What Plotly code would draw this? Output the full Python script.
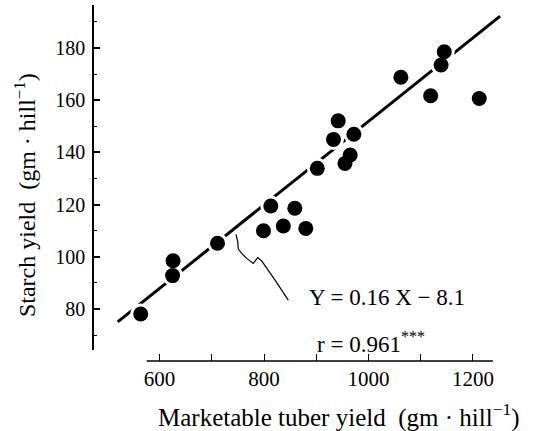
import plotly.graph_objects as go

# Marketable tuber yield vs. starch yield per hill
tuber_yield = [564, 626, 625, 711, 813, 859, 799, 837, 880, 902,
               955, 965, 933, 972, 942, 1062, 1119, 1139, 1145, 1212]
starch_yield = [78.1, 98.5, 92.8, 105.2, 119.5, 118.6, 110.0, 111.8, 110.9, 133.9,
                135.8, 139.0, 145.0, 147.0, 152.1, 168.8, 161.7, 173.5, 178.6, 160.7]

# Regression Y = 0.16 X - 8.1, r = 0.961
slope = 0.16
intercept = -8.1
fit_x = [520, 1252]
fit_y = [slope * x + intercept for x in fit_x]

# Callout from the fitted line to the equation label
leader_x = [746.4, 749.7, 750.8, 757.3, 766.9, 779.5, 787.9, 795.6, 821.1, 846.5]
leader_y = [108.6, 105.8, 103.0, 101.3, 99.4, 97.5, 99.7, 98.4, 91.1, 83.4]

x_ticks = [600, 800, 1000, 1200]
x_minor_ticks = [700, 900, 1100]
y_ticks = [80, 100, 120, 140, 160, 180]

X_RANGE = [472.7, 1261.3]
Y_RANGE = [64.3, 196.5]
X_LINE_SPAN = [575.5, 1238]

SERIF = "Liberation Serif, Times New Roman, DejaVu Serif, serif"

fig = go.Figure()

fig.add_trace(go.Scatter(
    x=fit_x, y=fit_y, mode="lines",
    line=dict(color="black", width=3),
    hoverinfo="skip", showlegend=False,
))
# white halos break the fitted line around each dot
fig.add_trace(go.Scatter(
    x=tuber_yield, y=starch_yield, mode="markers",
    marker=dict(color="white", size=21),
    hoverinfo="skip", showlegend=False,
))
fig.add_trace(go.Scatter(
    x=tuber_yield, y=starch_yield, mode="markers",
    marker=dict(color="black", size=15),
    showlegend=False,
))
fig.add_trace(go.Scatter(
    x=leader_x, y=leader_y, mode="lines",
    line=dict(color="black", width=1.2),
    hoverinfo="skip", showlegend=False,
))

# detached x-axis baseline
fig.add_shape(type="line", xref="x", yref="paper",
              x0=X_LINE_SPAN[0], x1=X_LINE_SPAN[1], y0=0, y1=0,
              line=dict(color="black", width=1.5))

fig.add_annotation(
    text="Y = 0.16 X − 8.1", xref="x", yref="y",
    x=1035, y=84.6, showarrow=False, xanchor="center", yanchor="middle",
    font=dict(family=SERIF, size=23, color="black"),
)
fig.add_annotation(
    text="r = 0.961<sup>***</sup>", xref="x", yref="y",
    x=1005, y=67.0, showarrow=False, xanchor="center", yanchor="middle",
    font=dict(family=SERIF, size=23, color="black"),
)
fig.add_annotation(
    text="Marketable tuber yield  (gm · hill<sup>−1</sup>)",
    xref="paper", yref="paper", x=0.597, y=0, yshift=-54,
    showarrow=False, xanchor="center", yanchor="middle",
    font=dict(family=SERIF, size=25, color="black"),
)
fig.add_annotation(
    text="Starch yield  (gm · hill<sup>−1</sup>)",
    xref="paper", yref="paper", x=0, xshift=-68, y=0.466,
    textangle=-90, showarrow=False, xanchor="center", yanchor="middle",
    font=dict(family=SERIF, size=24, color="black"),
)

fig.update_layout(
    width=541, height=431,
    margin=dict(l=93, r=36, t=5, b=70),
    paper_bgcolor="white", plot_bgcolor="white",
    font=dict(family=SERIF, color="black"),
    xaxis=dict(
        range=X_RANGE, anchor="free", position=0,
        showline=False, showgrid=False, zeroline=False,
        tickmode="array", tickvals=x_ticks,
        ticks="inside", ticklen=7, tickwidth=1.3, tickcolor="black",
        ticklabelstandoff=3,
        tickfont=dict(family=SERIF, size=21, color="black"),
        minor=dict(tickmode="array", tickvals=x_minor_ticks,
                   ticks="inside", ticklen=7, tickwidth=1.3, tickcolor="black",
                   showgrid=False),
    ),
    yaxis=dict(
        range=Y_RANGE, domain=[0.0309, 1], anchor="free", position=0,
        showline=True, linecolor="black", linewidth=1.5,
        showgrid=False, zeroline=False,
        tickmode="array", tickvals=y_ticks,
        ticks="inside", ticklen=6, tickwidth=1.5, tickcolor="black",
        ticklabelstandoff=3,
        tickfont=dict(family=SERIF, size=20, color="black"),
        minor=dict(ticks="inside", ticklen=3, tickwidth=1, tickcolor="black",
                   dtick=10, showgrid=False),
    ),
)

fig.write_html("out.html")
